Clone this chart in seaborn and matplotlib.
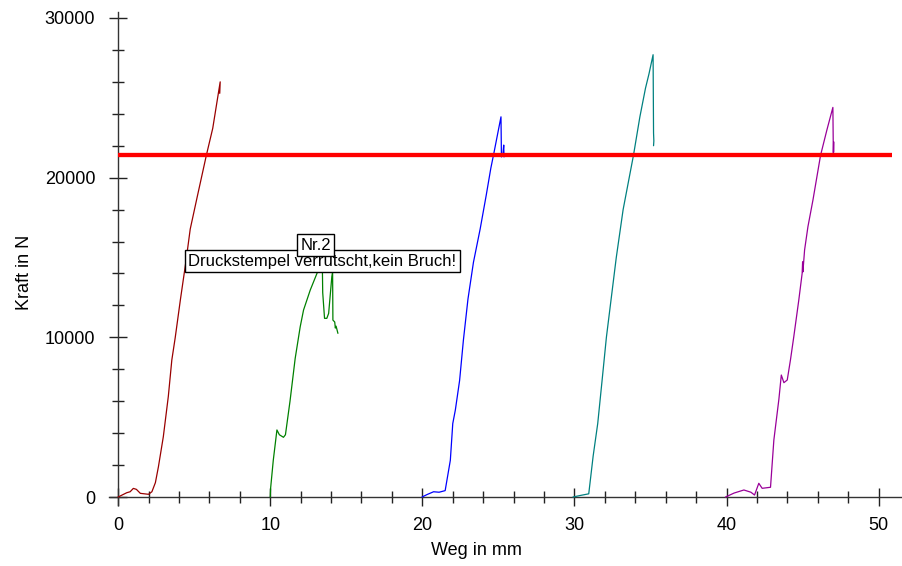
import matplotlib
matplotlib.use("Agg")
import matplotlib.pyplot as plt
import seaborn as sns
import numpy as np
import pandas as pd
from matplotlib.ticker import MultipleLocator

# ---- data ----
x1 = [0.0, 0.57, 0.79, 1.0, 1.2, 1.46, 2.0, 2.22, 2.45, 2.65, 2.97, 3.3, 3.53, 3.75, 4.1, 4.45, 4.74, 5.2, 5.8, 6.22, 6.71, 6.68]
y1 = [0, 270, 330, 540, 480, 230, 170, 330, 900, 1900, 3770, 6300, 8580, 9960, 12400, 14700, 16780, 18800, 21400, 23090, 26000, 25280]

x2 = [10.0, 10.02, 10.2, 10.44, 10.6, 10.87, 11.0, 11.3, 11.64, 11.97, 12.19, 12.63, 13.07, 13.3, 13.42, 13.45, 13.57, 13.72, 13.84, 14.05, 14.1, 14.12, 14.24, 14.28, 14.33, 14.45]
y2 = [0, 500, 2300, 4200, 3900, 3740, 3900, 6000, 8680, 10660, 11710, 12960, 14000, 14600, 14900, 12800, 11190, 11190, 11500, 13800, 14100, 11080, 10960, 10580, 10700, 10250]

x3 = [19.98, 20.3, 20.74, 21.1, 21.5, 21.84, 22.0, 22.17, 22.45, 22.7, 23.0, 23.36, 23.8, 24.2, 24.5, 24.7, 25.17, 25.2, 25.3, 25.35, 25.37]
y3 = [0, 150, 330, 300, 400, 2300, 4600, 5450, 7300, 9830, 12400, 14700, 16780, 18900, 20580, 21520, 23810, 21300, 21500, 22040, 21300]

x4 = [29.9, 30.4, 30.94, 31.23, 31.53, 31.82, 32.1, 32.75, 33.2, 33.88, 34.3, 34.67, 34.9, 35.17, 35.2, 35.22, 35.2]
y4 = [0, 100, 200, 2570, 4600, 7330, 10000, 15000, 18000, 21400, 23800, 25600, 26500, 27700, 22800, 22300, 22000]

x5 = [39.93, 40.5, 41.14, 41.6, 41.84, 42.12, 42.34, 42.89, 43.11, 43.44, 43.6, 43.77, 43.99, 44.2, 44.42, 44.75, 44.97, 45.0, 45.02, 45.13, 45.35, 45.68, 46.18, 46.6, 46.99, 47.02, 47.04, 47.05]
y5 = [0, 250, 440, 300, 125, 860, 545, 610, 3570, 6120, 7640, 7160, 7330, 8580, 10040, 12340, 14010, 14730, 14100, 15470, 16930, 18600, 21400, 23000, 24400, 21560, 22250, 21600]

series_x = [x1, x2, x3, x4, x5]
series_y = [y1, y2, y3, y4, y5]
series_colors = ["#990000", "#008000", "#0000FF", "#008080", "#990099"]

limit_x = [0.0, 50.86]
limit_y = [21400, 21400]

x_ticks = [0, 10, 20, 30, 40, 50]
y_ticks = [0, 10000, 20000, 30000]

note_main = "Druckstempel verrutscht,kein Bruch!"
note_nr = "Nr.2"

# ---- plot ----
sns.set_style("white")
plt.rcParams["font.family"] = ["Liberation Sans", "DejaVu Sans"]
plt.rcParams["text.color"] = "black"
plt.rcParams["axes.labelcolor"] = "black"

fig = plt.figure(figsize=(9.03, 5.66), dpi=100)
ax = fig.add_axes([109 / 903, 61 / 566, 794 / 903, 493 / 566])

for xs, ys, col in zip(series_x, series_y, series_colors):
    sns.lineplot(x=xs, y=ys, sort=False, estimator=None, color=col,
                 linewidth=0.9, ax=ax, zorder=3)

sns.lineplot(x=limit_x, y=limit_y, sort=False, estimator=None,
             color="#FF0000", linewidth=3.1, ax=ax, zorder=4,
             solid_capstyle="butt")

ax.set_xlim(-0.6, 51.6)
ax.set_ylim(-500, 30375)

for s in ["top", "right"]:
    ax.spines[s].set_visible(False)
ax.spines["left"].set_position(("data", 0))
ax.spines["bottom"].set_position(("data", 0))
for s in ["left", "bottom"]:
    ax.spines[s].set_color("#333333")
    ax.spines[s].set_linewidth(1.0)

ax.set_xticks(x_ticks)
ax.set_yticks(y_ticks)
ax.xaxis.set_minor_locator(MultipleLocator(2))
ax.yaxis.set_minor_locator(MultipleLocator(2000))
ax.tick_params(which="both", bottom=True, left=True, top=False, right=False)
ax.tick_params(which="major", direction="inout", length=13.5, width=1.0,
               color="#222222", labelsize=13, labelcolor="black")
ax.tick_params(which="minor", direction="inout", length=9, width=1.0,
               color="#222222")
ax.tick_params(axis="x", which="major", pad=7.6)
ax.tick_params(axis="y", which="major", pad=9.8)
ax.set_xticklabels([str(v) for v in x_ticks])
ax.set_yticklabels([str(v) for v in y_ticks])

ax.set_xlabel("Weg in mm", fontsize=13)
ax.set_ylabel("Kraft in N", fontsize=13)
ax.xaxis.label.set_va("center")
ax.yaxis.label.set_va("center")
ax.xaxis.set_label_coords(0.4622, -0.0913)
ax.yaxis.set_label_coords(-0.1058, 0.4726)
ax.grid(False)

ax.text(13.42, 14777, note_main, ha="center", va="center", fontsize=12,
        zorder=6, bbox=dict(boxstyle="square,pad=0.2", fc="white",
                            ec="black", lw=1))
ax.text(12.99, 15780, note_nr, ha="center", va="center", fontsize=12,
        zorder=7, bbox=dict(boxstyle="square,pad=0.2", fc="white",
                            ec="black", lw=1))

fig.savefig("out.png", dpi=100)
